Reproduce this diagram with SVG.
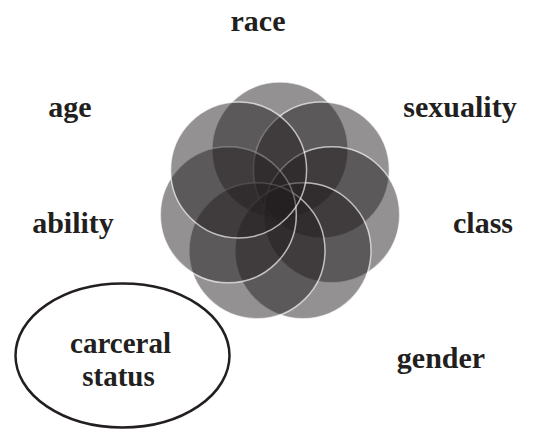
<svg xmlns="http://www.w3.org/2000/svg" width="547" height="430" viewBox="0 0 547 430">
<style>
.lbl{font-family:"Liberation Serif","Times New Roman",serif;font-weight:bold;font-size:30px;fill:#231f20}
.c{fill:#231f20;fill-opacity:0.49;stroke:#ffffff;stroke-opacity:0.65;stroke-width:1.5}
</style>
<rect width="547" height="430" fill="#ffffff"/>
<g id="flower">
<circle class="c" cx="280" cy="150" r="68"/>
<circle class="c" cx="321.4" cy="170" r="68"/>
<circle class="c" cx="331.7" cy="214.8" r="68"/>
<circle class="c" cx="303" cy="250.8" r="68"/>
<circle class="c" cx="257" cy="250.8" r="68"/>
<circle class="c" cx="228.3" cy="214.8" r="68"/>
<circle class="c" cx="238.6" cy="170" r="68"/>
</g>
<g id="race"><text class="lbl" x="258" y="31" text-anchor="middle">race</text></g>
<g id="age"><text class="lbl" x="70" y="117" text-anchor="middle">age</text></g>
<g id="sexuality"><text class="lbl" x="460" y="117" text-anchor="middle">sexuality</text></g>
<g id="ability"><text class="lbl" x="73" y="233" text-anchor="middle">ability</text></g>
<g id="class"><text class="lbl" x="483" y="233" text-anchor="middle">class</text></g>
<g id="gender"><text class="lbl" x="441" y="368" text-anchor="middle">gender</text></g>
<g id="carceral">
<ellipse cx="122.5" cy="355.5" rx="107" ry="72" fill="none" stroke="#231f20" stroke-width="2.5"/>
<text class="lbl" x="120.5" y="353" text-anchor="middle" style="font-size:29px">carceral</text>
<text class="lbl" x="118.5" y="385.5" text-anchor="middle" style="font-size:29px">status</text>
</g>
<g id="connectors"></g>
</svg>
